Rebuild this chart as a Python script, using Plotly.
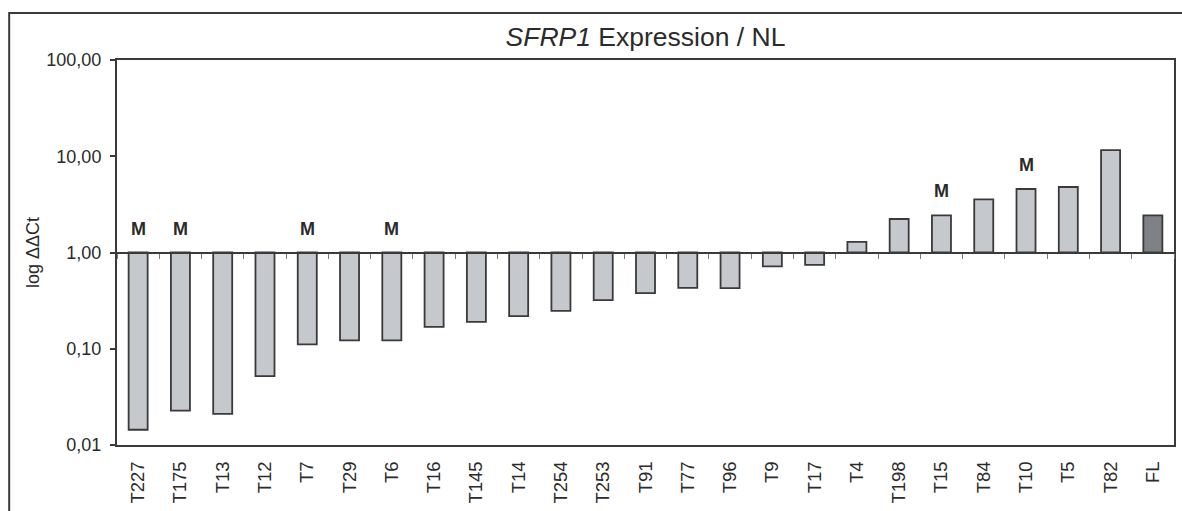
import math
import plotly.graph_objects as go

# Relative SFRP1 expression (log ΔΔCt, normalised to NL) per tumour sample
samples = ["T227", "T175", "T13", "T12", "T7", "T29", "T6", "T16", "T145", "T14",
           "T254", "T253", "T91", "T77", "T96", "T9", "T17", "T4", "T198", "T15",
           "T84", "T10", "T5", "T82", "FL"]
expression = [0.0144, 0.0228, 0.0211, 0.052, 0.111, 0.122, 0.122, 0.169, 0.190, 0.218,
              0.248, 0.320, 0.378, 0.430, 0.426, 0.716, 0.745, 1.29, 2.23, 2.43,
              3.57, 4.57, 4.79, 11.6, 2.43]
# Samples carrying a mutation (marked "M")
mutated = ["T227", "T175", "T7", "T6", "T15", "T10"]

y_tick_values = [0.01, 0.1, 1, 10, 100]
y_tick_labels = ["0,01", "0,10", "1,00", "10,00", "100,00"]

FONT = "Liberation Sans, Arial, sans-serif"
TEXT = "#2b2b2b"
LINE = "#3a3a3a"
BAR_FILL = "#c5c8cd"
REF_FILL = "#7e8287"

baseline = 1.0
bar_colors = [REF_FILL if s == "FL" else BAR_FILL for s in samples]

fig = go.Figure()

# Bars grow up or down from the 1,00 reference line
fig.add_trace(go.Bar(
    x=samples,
    y=[v - baseline for v in expression],
    base=baseline,
    width=0.45,
    marker=dict(color=bar_colors, line=dict(color=LINE, width=1.8)),
    customdata=expression,
    hovertemplate="%{x}: %{customdata}<extra></extra>",
    showlegend=False,
))

# Carrier for the category axis drawn along the 1,00 line
fig.add_trace(go.Scatter(
    x=samples, y=expression, xaxis="x2", mode="lines",
    line=dict(width=0), hoverinfo="skip", showlegend=False,
))

# "M" markers above the bar (or above the reference line for low samples)
for s, v in zip(samples, expression):
    if s in mutated:
        fig.add_annotation(
            x=s, y=math.log10(max(v, baseline)),
            text="<b>M</b>", showarrow=False,
            yanchor="middle", yshift=24,
            font=dict(family=FONT, size=18, color=TEXT),
        )

# Outer frame of the figure
fig.add_shape(
    type="rect", xref="paper", yref="paper",
    x0=-0.102, x1=1.1, y0=-0.3, y1=1.122,
    line=dict(color=LINE, width=2), fillcolor="rgba(0,0,0,0)", layer="below",
)

fig.update_layout(
    width=1182, height=511,
    margin=dict(l=117, r=6, t=60, b=66),
    paper_bgcolor="white", plot_bgcolor="white",
    font=dict(family=FONT, color=TEXT),
    title=dict(
        text="<i>SFRP1</i> Expression / NL",
        x=0.5, xref="paper", xanchor="center",
        y=1 - 37 / 511, yref="container", yanchor="middle",
        font=dict(family=FONT, size=26.5, color=TEXT),
    ),
    bargap=0.55,
    xaxis=dict(
        type="category", categoryorder="array", categoryarray=samples,
        range=[-0.5, len(samples) - 0.5],
        showline=True, linecolor=LINE, linewidth=2, mirror=True,
        ticks="", tickangle=-90, ticklabelstandoff=7,
        tickfont=dict(family=FONT, size=18.5, color=TEXT),
        showgrid=False, zeroline=False,
    ),
    xaxis2=dict(
        type="category", categoryorder="array", categoryarray=samples,
        range=[-0.5, len(samples) - 0.5],
        overlaying="x", anchor="free", position=0.5, side="bottom",
        showline=True, linecolor=LINE, linewidth=2,
        ticks="outside", tickson="boundaries", ticklen=5, tickwidth=1.2,
        tickcolor="#7a7a7a", showticklabels=False, showgrid=False,
    ),
    yaxis=dict(
        type="log", range=[-2, 2],
        tickvals=y_tick_values, ticktext=y_tick_labels,
        ticks="outside", ticklen=5, tickwidth=1.5, tickcolor=LINE,
        ticklabelstandoff=5,
        tickfont=dict(family=FONT, size=18, color=TEXT),
        showline=True, linecolor=LINE, linewidth=2, mirror=True,
        showgrid=False, zeroline=False,
        title=dict(text="log ΔΔCt", standoff=2,
                   font=dict(family=FONT, size=18, color=TEXT)),
    ),
)

fig.write_html("out.html")
